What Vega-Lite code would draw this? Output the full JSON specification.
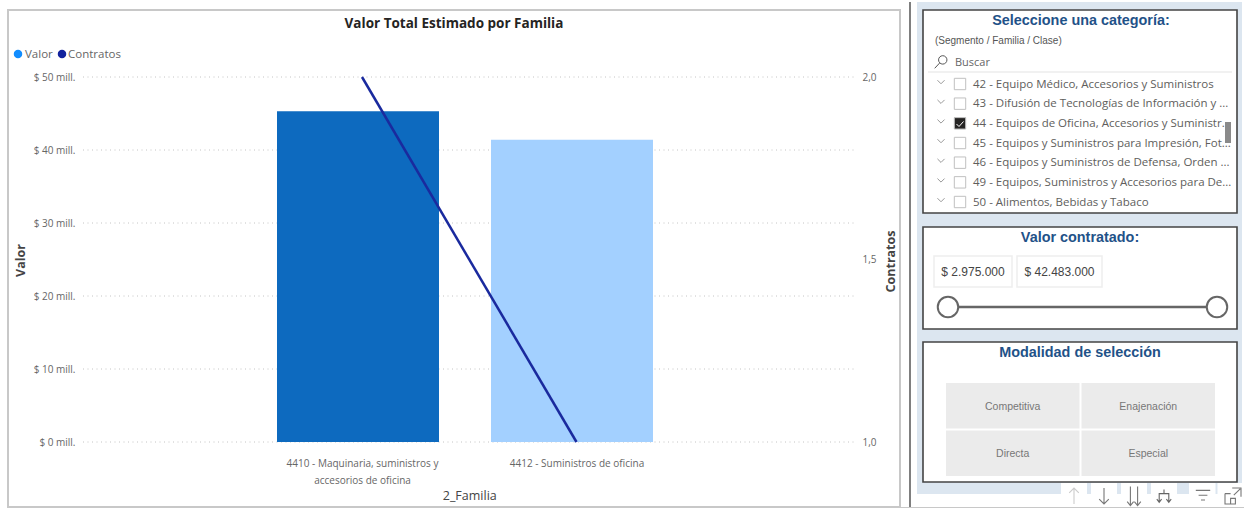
{
"$schema":"https://vega.github.io/schema/vega-lite/v6.json",
"width":1244,"height":508,"autosize":{"type":"fit","contains":"padding"},"padding":0,"background":"#ffffff",
"config":{"view":{"stroke":null},"text":{"font":"Open Sans"}},
"datasets":{
"barras":[{"familia":"4410 - Maquinaria, suministros y accesorios de oficina","valor":45300000,"contratos":2},{"familia":"4412 - Suministros de oficina","valor":41400000,"contratos":1}],
"marcas":[{"marca":0},{"marca":10000000},{"marca":20000000},{"marca":30000000},{"marca":40000000},{"marca":50000000}],
"leyenda":[{"serie":"Valor"},{"serie":"Contratos"}],
"lista":[{"item":"42 - Equipo Médico, Accesorios y Suministros","estado":"no"},{"item":"43 - Difusión de Tecnologías de Información y ...","estado":"no"},{"item":"44 - Equipos de Oficina, Accesorios y Suministr...","estado":"si"},{"item":"45 - Equipos y Suministros para Impresión, Fot...","estado":"no"},{"item":"46 - Equipos y Suministros de Defensa, Orden ...","estado":"no"},{"item":"49 - Equipos, Suministros y Accesorios para De...","estado":"no"},{"item":"50 - Alimentos, Bebidas y Tabaco","estado":"no"}],
"rango":[{"desde":2975000,"hasta":42483000,"desde_texto":"$ 2.975.000","hasta_texto":"$ 42.483.000"}],
"extremos":[{"v":2975000},{"v":42483000}],
"botones":[{"modalidad":"Competitiva","col":"a","fila":"1"},{"modalidad":"Enajenación","col":"b","fila":"1"},{"modalidad":"Directa","col":"a","fila":"2"},{"modalidad":"Especial","col":"b","fila":"2"}],
"iconos":[{"icono":"subir","grupo":"a"},{"icono":"bajar","grupo":"a"},{"icono":"doble","grupo":"a"},{"icono":"rama","grupo":"a"},{"icono":"filtro","grupo":"b"},{"icono":"expandir","grupo":"b"}]
},
"data":{"values":[{"k":1}]},
"layer":[
{"mark":{"type":"rect","fill":"#ffffff","stroke":"#c8c8c8","strokeWidth":2},"encoding":{"x":{"datum":0,"type":"quantitative","scale":{"domain":[0,1],"range":[8,900]},"axis":null},"x2":{"datum":1},"y":{"datum":0,"type":"quantitative","scale":{"domain":[0,1],"range":[10,507]},"axis":null},"y2":{"datum":1}}},
{"mark":{"type":"rule","stroke":"#555555","strokeWidth":1.5},"encoding":{"x":{"datum":0,"type":"quantitative","scale":{"domain":[0,1],"range":[910,911]},"axis":null},"y":{"datum":0,"type":"quantitative","scale":{"domain":[0,1],"range":[2,508]},"axis":null},"y2":{"datum":1}}},
{"mark":{"type":"rule","stroke":"#c8c8c8","strokeWidth":1},"encoding":{"y":{"datum":0,"type":"quantitative","scale":{"domain":[0,1],"range":[507.5,508.5]},"axis":null},"x":{"datum":0,"type":"quantitative","scale":{"domain":[0,1],"range":[900,1244]},"axis":null},"x2":{"datum":1}}},
{"mark":{"type":"rect","fill":"#dce6f0"},"encoding":{"x":{"datum":0,"type":"quantitative","scale":{"domain":[0,1],"range":[917,1242]},"axis":null},"x2":{"datum":1},"y":{"datum":0,"type":"quantitative","scale":{"domain":[0,1],"range":[2,494]},"axis":null},"y2":{"datum":1}}},
{"data":{"name":"iconos"},"mark":{"type":"rect","fill":"#ffffff"},"transform":[{"filter":"datum.grupo=='a'"}],"encoding":{"x":{"field":"icono","type":"nominal","sort":null,"scale":{"type":"band","range":[1061,1177],"paddingInner":0.133,"paddingOuter":0},"axis":null},"y":{"datum":0,"type":"quantitative","scale":{"domain":[0,1],"range":[483,495]},"axis":null},"y2":{"datum":1}}},
{"data":{"name":"iconos"},"mark":{"type":"rect","fill":"#ffffff"},"transform":[{"filter":"datum.grupo=='b'"}],"encoding":{"x":{"field":"icono","type":"nominal","sort":null,"scale":{"type":"band","range":[1189,1244],"paddingInner":0.07,"paddingOuter":0},"axis":null},"y":{"datum":0,"type":"quantitative","scale":{"domain":[0,1],"range":[483,495]},"axis":null},"y2":{"datum":1}}},
{"mark":{"type":"rect","fill":"#ffffff","stroke":"#444444","strokeWidth":1.6},"encoding":{"x":{"datum":0,"type":"quantitative","scale":{"domain":[0,1],"range":[923,1237]},"axis":null},"x2":{"datum":1},"y":{"datum":0,"type":"quantitative","scale":{"domain":[0,1],"range":[10,213]},"axis":null},"y2":{"datum":1}}},
{"mark":{"type":"rect","fill":"#ffffff","stroke":"#444444","strokeWidth":1.6},"encoding":{"x":{"datum":0,"type":"quantitative","scale":{"domain":[0,1],"range":[923,1237]},"axis":null},"x2":{"datum":1},"y":{"datum":0,"type":"quantitative","scale":{"domain":[0,1],"range":[227,329]},"axis":null},"y2":{"datum":1}}},
{"mark":{"type":"rect","fill":"#ffffff","stroke":"#444444","strokeWidth":1.6},"encoding":{"x":{"datum":0,"type":"quantitative","scale":{"domain":[0,1],"range":[923,1237]},"axis":null},"x2":{"datum":1},"y":{"datum":0,"type":"quantitative","scale":{"domain":[0,1],"range":[342,482]},"axis":null},"y2":{"datum":1}}},
{"data":{"name":"marcas"},"mark":{"type":"rule","stroke":"#c4c4c4","strokeWidth":1,"strokeDash":[1,3.5]},"encoding":{"x":{"datum":0,"type":"quantitative","scale":{"domain":[0,1],"range":[83,855]},"axis":null},"x2":{"datum":1},"y":{"field":"marca","type":"quantitative","scale":{"domain":[0,50000000],"range":[442,77],"nice":false},"axis":{"zindex":1,"orient":"left","offset":-83,"values":[0,10000000,20000000,30000000,40000000,50000000],"labelExpr":"'$ ' + (datum.value/1000000) + ' mill.'","grid":false,"domain":false,"ticks":false,"labelPadding":8,"labelFont":"Open Sans","labelFontSize":10,"labelColor":"#666666","title":"Valor","titleFont":"Open Sans","titleFontSize":12.5,"titleFontWeight":"bold","titleColor":"#444444","titleX":-63,"titleY":260,"titleAngle":-90,"titleBaseline":"middle"}}}},
{"data":{"name":"barras"},"mark":{"type":"bar"},"encoding":{"x":{"field":"familia","type":"nominal","sort":null,"scale":{"type":"band","range":[277,653],"paddingInner":0.243,"paddingOuter":0},"axis":null},"y":{"field":"valor","type":"quantitative","scale":{"domain":[0,50000000],"range":[442,77],"nice":false},"axis":null},"color":{"field":"familia","type":"nominal","sort":null,"scale":{"range":["#0d6abf","#a3d0ff"]},"legend":null}}},
{"data":{"name":"barras"},"mark":{"type":"line","stroke":"#1a2a9e","strokeWidth":2.5},"encoding":{"x":{"field":"familia","type":"nominal","sort":null,"scale":{"type":"point","range":[362,576.5],"padding":0},"axis":{"zindex":1,"orient":"bottom","offset":-66,"domain":false,"ticks":false,"labelAngle":0,"labelPadding":22,"labelBaseline":"middle","labelFont":"Open Sans","labelFontSize":10,"labelColor":"#666666","labelLineHeight":17,"labelLimit":300,"labelExpr":"datum.value=='4410 - Maquinaria, suministros y accesorios de oficina' ? ['4410 - Maquinaria, suministros y','accesorios de oficina'] : datum.value","title":"2_Familia","titleFont":"Open Sans","titleFontSize":12.5,"titleFontWeight":"normal","titleColor":"#444444","titleY":54,"titleBaseline":"middle"}},"y":{"field":"contratos","type":"quantitative","scale":{"domain":[1,2],"range":[442,77],"nice":false,"zero":false},"axis":{"zindex":1,"orient":"right","offset":-389,"values":[1,1.5,2],"labelExpr":"replace(format(datum.value,'.1f'),'.',',')","grid":false,"domain":false,"ticks":false,"labelPadding":8,"labelFont":"Open Sans","labelFontSize":10,"labelColor":"#666666","title":"Contratos","titleFont":"Open Sans","titleFontSize":12.5,"titleFontWeight":"bold","titleColor":"#444444","titleX":36,"titleY":261,"titleAngle":-90,"titleBaseline":"middle"}}}},
{"data":{"name":"leyenda"},"mark":{"type":"point","filled":true,"size":72,"opacity":1},"encoding":{"x":{"field":"serie","type":"nominal","sort":null,"scale":{"type":"point","range":[18,62],"padding":0},"axis":null},"y":{"datum":0.5,"type":"quantitative","scale":{"domain":[0,1],"range":[44,64]},"axis":null},"color":{"field":"serie","type":"nominal","scale":{"domain":["Valor","Contratos"],"range":["#118dff","#12239e"]},"legend":null}}},
{"data":{"name":"leyenda"},"mark":{"type":"text","align":"left","baseline":"middle","font":"Open Sans","fontSize":11.5,"fill":"#666666"},"encoding":{"x":{"field":"serie","type":"nominal","sort":null,"scale":{"type":"point","range":[25,68],"padding":0},"axis":null},"y":{"datum":0.5,"type":"quantitative","scale":{"domain":[0,1],"range":[45,65]},"axis":null},"text":{"field":"serie"}}},
{"mark":{"type":"text","baseline":"middle","font":"Open Sans","fontWeight":"bold","fontSize":13.5,"fill":"#252423"},"encoding":{"text":{"datum":"Valor Total Estimado por Familia"},"x":{"datum":0.5,"type":"quantitative","scale":{"domain":[0,1],"range":[8,900]},"axis":null},"y":{"datum":0.5,"type":"quantitative","scale":{"domain":[0,1],"range":[14,34]},"axis":null}}},
{"mark":{"type":"text","baseline":"middle","font":"Liberation Sans","fontWeight":"bold","fontSize":14.4,"fill":"#1f5288"},"encoding":{"text":{"datum":"Seleccione una categoría:"},"x":{"datum":0.5,"type":"quantitative","scale":{"domain":[0,1],"range":[923,1239]},"axis":null},"y":{"datum":0.5,"type":"quantitative","scale":{"domain":[0,1],"range":[11,31]},"axis":null}}},
{"mark":{"type":"text","baseline":"middle","align":"left","font":"Liberation Sans","fontSize":10,"fill":"#555555"},"encoding":{"text":{"datum":"(Segmento / Familia / Clase)"},"x":{"datum":0,"type":"quantitative","scale":{"domain":[0,1],"range":[935,1072]},"axis":null},"y":{"datum":0.5,"type":"quantitative","scale":{"domain":[0,1],"range":[31,51]},"axis":null}}},
{"mark":{"type":"text","baseline":"middle","align":"left","font":"Open Sans","fontSize":11,"fill":"#666666"},"encoding":{"text":{"datum":"Buscar"},"x":{"datum":0,"type":"quantitative","scale":{"domain":[0,1],"range":[955,1000]},"axis":null},"y":{"datum":0.5,"type":"quantitative","scale":{"domain":[0,1],"range":[52.5,72.5]},"axis":null}}},
{"mark":{"type":"point","shape":"M-0.35,-0.3A0.6,0.6 0 1 1 0.85,-0.3A0.6,0.6 0 1 1 -0.35,-0.3M-0.2,0.15L-0.9,0.9","filled":false,"size":196,"stroke":"#555555","strokeWidth":1,"opacity":1},"encoding":{"x":{"datum":0.5,"type":"quantitative","scale":{"domain":[0,1],"range":[931,951]},"axis":null},"y":{"datum":0.5,"type":"quantitative","scale":{"domain":[0,1],"range":[52,72]},"axis":null}}},
{"mark":{"type":"rule","stroke":"#e4e4e4","strokeWidth":1.2},"encoding":{"x":{"datum":0,"type":"quantitative","scale":{"domain":[0,1],"range":[928,1232]},"axis":null},"x2":{"datum":1},"y":{"datum":0,"type":"quantitative","scale":{"domain":[0,1],"range":[72,73]},"axis":null}}},
{"data":{"name":"lista"},"mark":{"type":"text","align":"left","baseline":"middle","font":"Open Sans","fontSize":11.5,"fill":"#605e5c"},"encoding":{"text":{"field":"item"},"x":{"datum":0,"type":"quantitative","scale":{"domain":[0,1],"range":[973,1230]},"axis":null},"y":{"field":"item","type":"nominal","sort":null,"scale":{"type":"point","range":[84.5,202.5],"padding":0},"axis":null}}},
{"data":{"name":"lista"},"mark":{"type":"point","shape":"M-1,-0.5L0,0.5L1,-0.5","filled":false,"size":50,"stroke":"#999999","strokeWidth":1,"opacity":1},"encoding":{"x":{"datum":0,"type":"quantitative","scale":{"domain":[0,1],"range":[941,960]},"axis":null},"y":{"field":"item","type":"nominal","sort":null,"scale":{"type":"point","range":[82,200],"padding":0},"axis":null}}},
{"data":{"name":"lista"},"mark":{"type":"point","shape":"square","filled":true,"size":130,"stroke":"#c0c0c0","strokeWidth":1,"opacity":1},"encoding":{"x":{"datum":0,"type":"quantitative","scale":{"domain":[0,1],"range":[960,980]},"axis":null},"y":{"field":"item","type":"nominal","sort":null,"scale":{"type":"point","range":[84,202],"padding":0},"axis":null},"fill":{"field":"estado","type":"nominal","scale":{"domain":["no","si"],"range":["#ffffff","#252423"]},"legend":null}}},
{"data":{"name":"lista"},"transform":[{"filter":"datum.estado=='si'"}],"mark":{"type":"point","shape":"M-0.7,0L-0.2,0.5L0.7,-0.5","filled":false,"size":100,"stroke":"#ffffff","strokeWidth":1,"opacity":1},"encoding":{"x":{"datum":0,"type":"quantitative","scale":{"domain":[0,1],"range":[960,980]},"axis":null},"y":{"datum":0,"type":"quantitative","scale":{"domain":[0,1],"range":[124,125]},"axis":null}}},
{"mark":{"type":"rect","fill":"#8a8a8a"},"encoding":{"x":{"datum":0,"type":"quantitative","scale":{"domain":[0,1],"range":[1225,1231]},"axis":null},"x2":{"datum":1},"y":{"datum":0,"type":"quantitative","scale":{"domain":[0,1],"range":[122,143]},"axis":null},"y2":{"datum":1}}},
{"mark":{"type":"text","baseline":"middle","font":"Liberation Sans","fontWeight":"bold","fontSize":14.4,"fill":"#1f5288"},"encoding":{"text":{"datum":"Valor contratado:"},"x":{"datum":0.5,"type":"quantitative","scale":{"domain":[0,1],"range":[923,1237]},"axis":null},"y":{"datum":0.5,"type":"quantitative","scale":{"domain":[0,1],"range":[228,248]},"axis":null}}},
{"mark":{"type":"rect","fill":"#ffffff","stroke":"#eeeeee","strokeWidth":1.5},"encoding":{"x":{"datum":0,"type":"quantitative","scale":{"domain":[0,1],"range":[934,1012]},"axis":null},"x2":{"datum":1},"y":{"datum":0,"type":"quantitative","scale":{"domain":[0,1],"range":[256,287]},"axis":null},"y2":{"datum":1}}},
{"mark":{"type":"rect","fill":"#ffffff","stroke":"#eeeeee","strokeWidth":1.5},"encoding":{"x":{"datum":0,"type":"quantitative","scale":{"domain":[0,1],"range":[1017,1102]},"axis":null},"x2":{"datum":1},"y":{"datum":0,"type":"quantitative","scale":{"domain":[0,1],"range":[256,287]},"axis":null},"y2":{"datum":1}}},
{"data":{"name":"rango"},"mark":{"type":"text","baseline":"middle","font":"Liberation Sans","fontSize":12,"fill":"#444444"},"encoding":{"text":{"field":"desde_texto"},"x":{"datum":0.5,"type":"quantitative","scale":{"domain":[0,1],"range":[934,1012]},"axis":null},"y":{"datum":0.5,"type":"quantitative","scale":{"domain":[0,1],"range":[256,287]},"axis":null}}},
{"data":{"name":"rango"},"mark":{"type":"text","baseline":"middle","font":"Liberation Sans","fontSize":12,"fill":"#444444"},"encoding":{"text":{"field":"hasta_texto"},"x":{"datum":0.5,"type":"quantitative","scale":{"domain":[0,1],"range":[1017,1102]},"axis":null},"y":{"datum":0.5,"type":"quantitative","scale":{"domain":[0,1],"range":[256,287]},"axis":null}}},
{"data":{"name":"rango"},"mark":{"type":"rule","stroke":"#666666","strokeWidth":2.5},"encoding":{"x":{"field":"desde","type":"quantitative","scale":{"domain":[2975000,42483000],"range":[948,1217],"zero":false,"nice":false},"axis":null},"x2":{"field":"hasta"},"y":{"datum":0,"type":"quantitative","scale":{"domain":[0,1],"range":[307,308]},"axis":null}}},
{"data":{"name":"extremos"},"mark":{"type":"point","shape":"circle","filled":true,"fill":"#ffffff","stroke":"#666666","strokeWidth":2,"size":420,"opacity":1},"encoding":{"x":{"field":"v","type":"quantitative","scale":{"domain":[2975000,42483000],"range":[948,1217],"zero":false,"nice":false},"axis":null},"y":{"datum":0,"type":"quantitative","scale":{"domain":[0,1],"range":[307,308]},"axis":null}}},
{"mark":{"type":"text","baseline":"middle","font":"Liberation Sans","fontWeight":"bold","fontSize":14.4,"fill":"#1f5288"},"encoding":{"text":{"datum":"Modalidad de selección"},"x":{"datum":0.5,"type":"quantitative","scale":{"domain":[0,1],"range":[923,1237]},"axis":null},"y":{"datum":0.5,"type":"quantitative","scale":{"domain":[0,1],"range":[343,363]},"axis":null}}},
{"data":{"name":"botones"},"mark":{"type":"rect","fill":"#ebebeb"},"encoding":{"x":{"field":"col","type":"nominal","scale":{"type":"band","range":[946,1215],"paddingInner":0.015,"paddingOuter":0},"axis":null},"y":{"field":"fila","type":"nominal","scale":{"type":"band","range":[383,476],"paddingInner":0.043,"paddingOuter":0},"axis":null}}},
{"data":{"name":"botones"},"mark":{"type":"text","baseline":"middle","font":"Liberation Sans","fontSize":10.5,"fill":"#777777","dy":1},"encoding":{"text":{"field":"modalidad"},"x":{"field":"col","type":"nominal","scale":{"type":"band","range":[946,1215],"paddingInner":0.015,"paddingOuter":0},"axis":null},"y":{"field":"fila","type":"nominal","scale":{"type":"band","range":[383,476],"paddingInner":0.043,"paddingOuter":0},"axis":null}}},
{"data":{"name":"iconos"},"transform":[{"filter":"datum.grupo=='a'"}],"mark":{"type":"point","filled":false,"size":256,"strokeWidth":1.1,"opacity":1},"encoding":{"x":{"field":"icono","type":"nominal","sort":null,"scale":{"type":"point","range":[1074,1164],"padding":0},"axis":null},"y":{"datum":0,"type":"quantitative","scale":{"domain":[0,1],"range":[496,497]},"axis":null},"shape":{"field":"icono","type":"nominal","scale":{"domain":["subir","bajar","doble","rama"],"range":["M0,1L0,-1M-0.6,-0.4L0,-1L0.6,-0.4","M0,-1L0,1M-0.6,0.4L0,1L0.6,0.4","M-0.45,-1.2L-0.45,1.2M-0.85,0.7L-0.45,1.2L-0.05,0.7M0.45,-1.2L0.45,1.2M0.05,0.7L0.45,1.2L0.85,0.7","M0,-0.8L0,-0.3M-0.6,0.8L-0.6,-0.3L0.6,-0.3L0.6,0.8M-0.9,0.4L-0.6,0.8L-0.3,0.4M0.3,0.4L0.6,0.8L0.9,0.4"]},"legend":null},"stroke":{"field":"icono","type":"nominal","scale":{"domain":["subir","bajar","doble","rama"],"range":["#cccccc","#777777","#777777","#666666"]},"legend":null}}},
{"data":{"name":"iconos"},"transform":[{"filter":"datum.grupo=='b'"}],"mark":{"type":"point","filled":false,"size":256,"strokeWidth":1.1,"stroke":"#777777","opacity":1},"encoding":{"x":{"field":"icono","type":"nominal","sort":null,"scale":{"type":"point","range":[1203,1233],"padding":0},"axis":null},"y":{"datum":0,"type":"quantitative","scale":{"domain":[0,1],"range":[496,497]},"axis":null},"shape":{"field":"icono","type":"nominal","scale":{"domain":["filtro","expandir"],"range":["M-0.9,-0.7L0.9,-0.7M-0.55,-0.1L0.55,-0.1M-0.25,0.5L0.25,0.5","M-0.1,-1L1,-1L1,0.1M0.9,-0.9L0.1,-0.1M-1,-0.3L-0.3,-0.3M-1,-0.3L-1,1L0.3,1L0.3,0.3L-0.3,0.3L-0.3,1"]},"legend":null}}}
],
"resolve":{"scale":{"x":"independent","y":"independent","color":"independent","shape":"independent","fill":"independent","stroke":"independent"},"axis":{"x":"independent","y":"independent"},"legend":{"color":"independent","shape":"independent","fill":"independent","stroke":"independent"}}
}
